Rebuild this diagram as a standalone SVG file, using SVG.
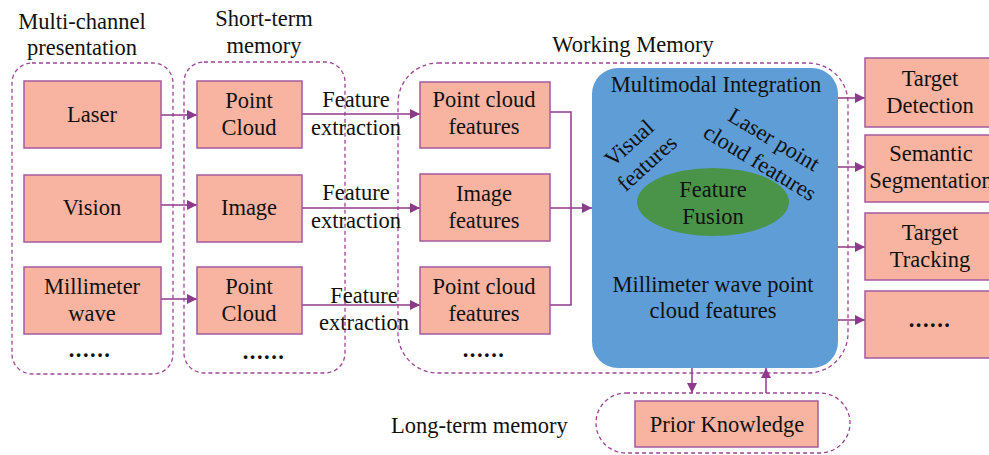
<svg xmlns="http://www.w3.org/2000/svg" width="989" height="455" viewBox="0 0 989 455" font-family="'Liberation Serif', 'Times New Roman', serif">
<defs>
<marker id="ah" viewBox="0 0 10 10" refX="10" refY="5" markerWidth="10" markerHeight="10" markerUnits="userSpaceOnUse" orient="auto">
<path d="M0,0 L10,5 L0,10 z" fill="#8E3A8A"/>
</marker>
<style>
text{font-family:'Liberation Serif','Times New Roman',serif;font-size:22.5px;fill:#111;text-anchor:middle}
.grp{fill:none;stroke:#9C4696;stroke-width:1.3;stroke-dasharray:4 3}
.box{fill:#F9B4A1;stroke:#A45A9E;stroke-width:1.5}
.edge{fill:none;stroke:#8E3A8A;stroke-width:1.5}
.arr{marker-end:url(#ah)}
.dots{font-weight:bold;letter-spacing:1.5px}
.lft{text-anchor:start}
</style>
</defs>
<rect width="989" height="455" fill="#fff"/>

<g id="groups">
<rect class="grp" x="12" y="63" width="161" height="311" rx="20"/>
<rect class="grp" x="184" y="62" width="161" height="311" rx="20"/>
<rect class="grp" x="398" y="63" width="450" height="310" rx="40"/>
<rect class="grp" x="596" y="393" width="254" height="60" rx="30"/>
<text x="82" y="29">Multi-channel</text>
<text x="82" y="55">presentation</text>
<text x="264" y="26">Short-term</text>
<text x="264" y="53">memory</text>
<text x="633" y="52">Working Memory</text>
<text class="lft" x="391" y="433">Long-term memory</text>
</g>

<g id="connectors">
<path class="edge arr" d="M161,115 H197"/>
<path class="edge arr" d="M161,205 H197"/>
<path class="edge arr" d="M161,299 H197"/>
<path class="edge arr" d="M302,114 H420"/>
<path class="edge arr" d="M302,208 H420"/>
<path class="edge arr" d="M302,305 H420"/>
<path class="edge" d="M550,112 H571 V305 H550"/>
<path class="edge arr" d="M550,208 H592"/>
<path class="edge arr" d="M838,98 H865"/>
<path class="edge arr" d="M838,167 H865"/>
<path class="edge arr" d="M838,247 H865"/>
<path class="edge arr" d="M838,320 H865"/>
<path class="edge arr" d="M692,368 V393"/>
<path class="edge arr" d="M766,393 V368"/>
<text x="356" y="107">Feature</text>
<text x="356" y="135">extraction</text>
<text x="356" y="200">Feature</text>
<text x="356" y="228">extraction</text>
<text x="364" y="303">Feature</text>
<text x="364" y="330">extraction</text>
</g>

<g id="laser"><rect class="box" x="24" y="81" width="137" height="67"/><text x="92" y="122">Laser</text></g>
<g id="vision"><rect class="box" x="24" y="175" width="137" height="67"/><text x="92" y="215">Vision</text></g>
<g id="mmwave"><rect class="box" x="24" y="267" width="137" height="67"/><text x="92" y="294">Millimeter</text><text x="92" y="321">wave</text></g>
<g id="dots1"><text class="dots" x="90" y="357">......</text></g>

<g id="pc1"><rect class="box" x="197" y="81" width="105" height="67"/><text x="249" y="108">Point</text><text x="249" y="135">Cloud</text></g>
<g id="image"><rect class="box" x="197" y="175" width="105" height="67"/><text x="249" y="215">Image</text></g>
<g id="pc2"><rect class="box" x="197" y="267" width="105" height="67"/><text x="249" y="294">Point</text><text x="249" y="321">Cloud</text></g>
<g id="dots2"><text class="dots" x="264" y="359">......</text></g>

<g id="pcf1"><rect class="box" x="420" y="82" width="130" height="66"/><text x="484" y="107">Point cloud</text><text x="484" y="134">features</text></g>
<g id="imf"><rect class="box" x="420" y="174" width="130" height="67"/><text x="484" y="201">Image</text><text x="484" y="228">features</text></g>
<g id="pcf2"><rect class="box" x="420" y="267" width="130" height="67"/><text x="484" y="294">Point cloud</text><text x="484" y="321">features</text></g>
<g id="dots3"><text class="dots" x="484" y="357">......</text></g>

<g id="integration">
<rect x="592" y="68" width="246" height="300" rx="26" fill="#5E9DD6"/>
<text x="716" y="92">Multimodal Integration</text>
<g transform="translate(638,153) rotate(-42)"><text x="0" y="-6">Visual</text><text x="0" y="21">features</text></g>
<g transform="translate(767,151) rotate(31)"><text x="0" y="-6">Laser point</text><text x="0" y="21">cloud features</text></g>
<text x="713" y="292">Millimeter wave point</text>
<text x="713" y="318">cloud features</text>
</g>
<g id="fusion">
<ellipse cx="713" cy="202" rx="76" ry="34" fill="#4A9449"/>
<text x="713" y="197">Feature</text>
<text x="713" y="224">Fusion</text>
</g>

<g id="detection"><rect class="box" x="865" y="58" width="132" height="69"/><text x="930" y="86">Target</text><text x="930" y="113">Detection</text></g>
<g id="segmentation"><rect class="box" x="865" y="135" width="132" height="67"/><text x="931" y="161">Semantic</text><text x="931" y="188">Segmentation</text></g>
<g id="tracking"><rect class="box" x="865" y="213" width="132" height="67"/><text x="930" y="240">Target</text><text x="930" y="267">Tracking</text></g>
<g id="more"><rect class="box" x="865" y="291" width="132" height="67"/><text class="dots" x="930" y="327">......</text></g>

<g id="prior"><rect class="box" x="635" y="401" width="183" height="46"/><text x="727" y="432">Prior Knowledge</text></g>
</svg>
